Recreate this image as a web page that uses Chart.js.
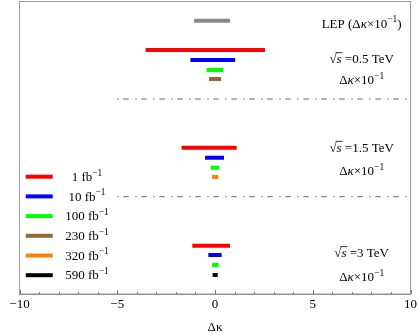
<!DOCTYPE html>
<html>
<head>
<meta charset="utf-8">
<script src="https://cdn.jsdelivr.net/npm/chart.js@4.4.0/dist/chart.umd.min.js"></script>
<style>
  html, body { margin: 0; padding: 0; background: #fff; }
</style>
</head>
<body>
<canvas id="myChart" width="417" height="335"></canvas>
<script>
'use strict';
// ******* Data *******
let lumiLabels = ['1', '10', '100', '230', '320', '590'];
let lumiColors = ['#ff0000', '#0000ff', '#00ff00', '#996633', '#ff8000', '#000000'];

let energies = ['0.5', '1.5', '3'];
// which luminosities are shown for each energy
let groupLumis = [[0, 1, 2, 3], [0, 1, 2, 4], [0, 1, 2, 5]];
// interval edges, in units of 10^-1
let lowEdge = [[-3.55, -1.26, -0.43, -0.31], [-1.71, -0.51, -0.22, -0.15], [-1.16, -0.34, -0.15, -0.12]];
let highEdge = [[2.56, 1.03, 0.43, 0.31], [1.11, 0.46, 0.22, 0.17], [0.77, 0.34, 0.19, 0.14]];
let rowY = [[24.4, 23.4, 22.4, 21.5], [14.63, 13.63, 12.63, 11.7], [4.83, 3.9, 2.9, 1.9]];

let lepRange = [-1.07, 0.77];
let lepRow = 27.33;
let separatorY = [19.5, 9.73];
let separatorStart = -5;

let xTicks = [-10, -5, 0, 5, 10];

// ****** Fonts ******
let serif = '"Liberation Serif", "DejaVu Serif", serif';

// ****** Datasets ******
let datasets = [];

datasets.push({
  data: [{ x: lepRange[0], y: lepRow }, { x: lepRange[1], y: lepRow }],
  borderColor: '#888888',
  borderWidth: 4
});

for (let g = 0; g < energies.length; g++) {
  for (let i = 0; i < groupLumis[g].length; i++) {
    datasets.push({
      data: [{ x: lowEdge[g][i], y: rowY[g][i] }, { x: highEdge[g][i], y: rowY[g][i] }],
      borderColor: lumiColors[groupLumis[g][i]],
      borderWidth: 4
    });
  }
}

for (let i = 0; i < separatorY.length; i++) {
  datasets.push({
    data: [{ x: separatorStart, y: separatorY[i] }, { x: xTicks[xTicks.length - 1], y: separatorY[i] }],
    borderColor: '#666666',
    borderWidth: 1,
    borderDash: [1.5, 4.5, 5.5, 6.5]
  });
}

// ****** Text helper ******
// parts: [text, style] with style 'n' normal, 'i' italic, 's' superscript, 'o' italic with overline
function drawRich(ctx, parts, cx, cy, size) {
  let fontFor = function (style) {
    if (style === 's') return (size * 0.72) + 'px ' + serif;
    if (style === 'i' || style === 'o') return 'italic ' + size + 'px ' + serif;
    return size + 'px ' + serif;
  };
  let total = 0;
  for (let i = 0; i < parts.length; i++) {
    ctx.font = fontFor(parts[i][1]);
    total += ctx.measureText(parts[i][0]).width;
  }
  let x = cx - total / 2;
  let base = cy + size * 0.33;
  ctx.fillStyle = '#000';
  ctx.textAlign = 'left';
  ctx.textBaseline = 'alphabetic';
  for (let i = 0; i < parts.length; i++) {
    let style = parts[i][1];
    ctx.font = fontFor(style);
    let w = ctx.measureText(parts[i][0]).width;
    let y = style === 's' ? base - size * 0.42 : base;
    ctx.fillText(parts[i][0], x, y);
    if (style === 'o') {
      ctx.strokeStyle = '#000';
      ctx.lineWidth = 0.8;
      ctx.beginPath();
      ctx.moveTo(x - 1, base - size * 0.82);
      ctx.lineTo(x + w + 1, base - size * 0.82);
      ctx.stroke();
    }
    x += w;
  }
}

// ****** Plugins ******
let framePlugin = {
  id: 'frame',
  afterDatasetsDraw: function (chart) {
    let ctx = chart.ctx;
    let a = chart.chartArea;
    let xs = chart.scales.x;
    ctx.save();
    ctx.strokeStyle = '#999999';
    ctx.lineWidth = 1;
    ctx.strokeRect(a.left, a.top, a.right - a.left, a.bottom - a.top);
    // inward tick marks
    ctx.strokeStyle = '#777777';
    for (let v = xTicks[0]; v <= xTicks[xTicks.length - 1]; v++) {
      let px = Math.round(xs.getPixelForValue(v)) + 0.5;
      let len = v % 5 === 0 ? 4 : 2;
      ctx.beginPath();
      ctx.moveTo(px, a.bottom);
      ctx.lineTo(px, a.bottom - len);
      ctx.stroke();
    }
    ctx.restore();
  }
};

let labelPlugin = {
  id: 'labels',
  afterDraw: function (chart) {
    let ctx = chart.ctx;
    let xs = chart.scales.x;
    let ys = chart.scales.y;
    let sz = 13;
    ctx.save();

    // legend
    for (let i = 0; i < lumiLabels.length; i++) {
      let ly = ys.getPixelForValue(11.73 - i * 1.97);
      ctx.strokeStyle = lumiColors[i];
      ctx.lineWidth = 4;
      ctx.beginPath();
      ctx.moveTo(xs.getPixelForValue(-9.68), ly);
      ctx.lineTo(xs.getPixelForValue(-8.3), ly);
      ctx.stroke();
      drawRich(ctx, [[lumiLabels[i] + ' fb', 'n'], ['\u22121', 's']], xs.getPixelForValue(-6.55), ly, sz);
    }

    // right side notes
    let cx = xs.getPixelForValue(7.5);
    let dk = [['\u0394', 'n'], ['\u03ba', 'i'], ['\u00d710', 'n'], ['\u22121', 's']];
    drawRich(ctx, [['LEP (\u0394', 'n'], ['\u03ba', 'i'], ['\u00d710', 'n'], ['\u22121', 's'], [')', 'n']],
      cx, ys.getPixelForValue(27.07), sz);
    let noteY = [[23.5, 21.4], [14.63, 12.3], [4.1, 1.73]];
    for (let g = 0; g < energies.length; g++) {
      drawRich(ctx, [['\u221a', 'n'], ['s', 'o'], [' =' + energies[g] + ' TeV', 'n']],
        cx, ys.getPixelForValue(noteY[g][0]), sz);
      drawRich(ctx, dk, cx, ys.getPixelForValue(noteY[g][1]), sz);
    }
    ctx.restore();
  }
};

// ****** Chart ******
let ctx = document.getElementById('myChart');

new Chart(ctx, {
  type: 'scatter',
  data: { datasets: datasets },
  options: {
    responsive: false,
    animation: false,
    devicePixelRatio: 1,
    showLine: true,
    layout: { padding: { left: 19.5, right: 6.5, top: 1.5, bottom: 0 } },
    elements: {
      point: { radius: 0, hoverRadius: 0 },
      line: { borderCapStyle: 'butt', tension: 0 }
    },
    plugins: {
      legend: { display: false },
      tooltip: { enabled: false }
    },
    scales: {
      x: {
        type: 'linear',
        min: -10,
        max: 10,
        grid: { display: false, drawTicks: false },
        border: { display: true, color: '#888888' },
        ticks: {
          stepSize: 5,
          padding: 3,
          color: '#000',
          font: { family: serif, size: 13 },
          maxRotation: 0,
          callback: function (v) { return String(v).replace('-', '\u2212'); }
        },
        title: {
          display: true,
          text: '\u0394\u03ba',
          color: '#000',
          font: { family: serif, size: 13 },
          padding: { top: 0, bottom: 0 }
        },
        afterFit: function (scale) {
          scale.height = 41;
          scale.paddingLeft = 0;
          scale.paddingRight = 0;
        }
      },
      y: {
        type: 'linear',
        display: false,
        min: 0,
        max: 29.25
      }
    }
  },
  plugins: [framePlugin, labelPlugin]
});
</script>
</body>
</html>
